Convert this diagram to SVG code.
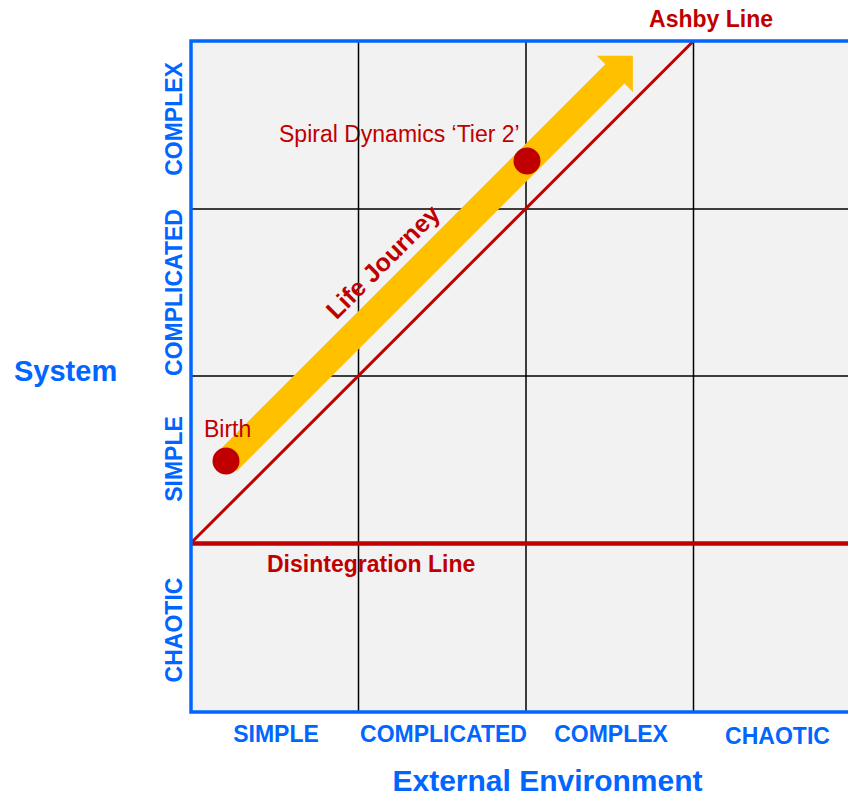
<svg xmlns="http://www.w3.org/2000/svg" width="848" height="798" viewBox="0 0 848 798">
  <style>
    .ax { font-family: "Liberation Sans", Arial, sans-serif; font-weight: bold; fill: #0066FF; }
    .lbl { font-family: "Liberation Sans", Arial, sans-serif; font-size: 23px; fill: #C00000; }
    .b { font-weight: bold; }
    .grid { stroke: #000; stroke-width: 1.5; fill: none; }
    .red { stroke: #C00000; fill: none; }
  </style>

  <rect width="848" height="798" fill="#FFFFFF"/>

  <!-- matrix background -->
  <rect x="191" y="41" width="670" height="671" fill="#F2F2F2"/>

  <!-- labels that sit beneath the grid lines -->
  <g id="tier2-label">
    <text class="lbl" x="279" y="142">Spiral Dynamics ‘Tier 2’</text>
  </g>
  <g id="disintegration-label">
    <text class="lbl b" x="267" y="572">Disintegration Line</text>
  </g>

  <!-- grid lines -->
  <g id="grid" class="grid">
    <line x1="358.5" y1="41" x2="358.5" y2="712"/>
    <line x1="526" y1="41" x2="526" y2="712"/>
    <line x1="693.5" y1="41" x2="693.5" y2="712"/>
    <line x1="191" y1="209" x2="861" y2="209"/>
    <line x1="191" y1="376" x2="861" y2="376"/>
  </g>

  <g id="connectors">
    <!-- Ashby line -->
    <line id="ashby-line" class="red" stroke-width="3" x1="191" y1="543" x2="693.5" y2="41"/>
    <!-- Disintegration line -->
    <line id="disintegration-line" class="red" stroke-width="4.5" x1="191" y1="543.5" x2="861" y2="543.5"/>
    <!-- Life journey block arrow -->
    <path id="life-journey" fill="#FFC000" transform="translate(227,461) rotate(-45)"
          d="M0,-13 L548,-13 L548,-25 L573.5,0.5 L548,26 L548,14 L0,14 Z"/>
  </g>

  <!-- outer frame -->
  <path d="M861,41 L191,41 L191,712 L861,712" fill="none" stroke="#0066FF" stroke-width="3.5"/>

  <g id="birth">
    <circle cx="226" cy="461" r="13.5" fill="#C00000"/>
    <text class="lbl" x="204" y="437">Birth</text>
  </g>
  <g id="tier2">
    <circle cx="527" cy="161" r="13.5" fill="#C00000"/>
  </g>
  <g id="life-journey-label">
    <text class="lbl b" style="font-size:25px" text-anchor="middle" transform="translate(389,268) rotate(-45)">Life Journey</text>
  </g>
  <g id="ashby-label">
    <text class="lbl b" x="711" y="27" text-anchor="middle">Ashby Line</text>
  </g>

  <!-- horizontal axis -->
  <g id="x-axis" class="ax" font-size="23" text-anchor="middle">
    <text x="276" y="742">SIMPLE</text>
    <text x="443.5" y="742">COMPLICATED</text>
    <text x="611" y="742">COMPLEX</text>
    <text x="777.5" y="744">CHAOTIC</text>
  </g>
  <text id="x-title" class="ax" font-size="30" x="547.5" y="791" text-anchor="middle">External Environment</text>

  <!-- vertical axis -->
  <g id="y-axis" class="ax" font-size="23" text-anchor="middle">
    <text transform="translate(182,119) rotate(-90)">COMPLEX</text>
    <text transform="translate(182,292.5) rotate(-90)">COMPLICATED</text>
    <text transform="translate(182,459) rotate(-90)">SIMPLE</text>
    <text transform="translate(182,630) rotate(-90)">CHAOTIC</text>
  </g>
  <text id="y-title" class="ax" font-size="29" x="14" y="381">System</text>
</svg>
